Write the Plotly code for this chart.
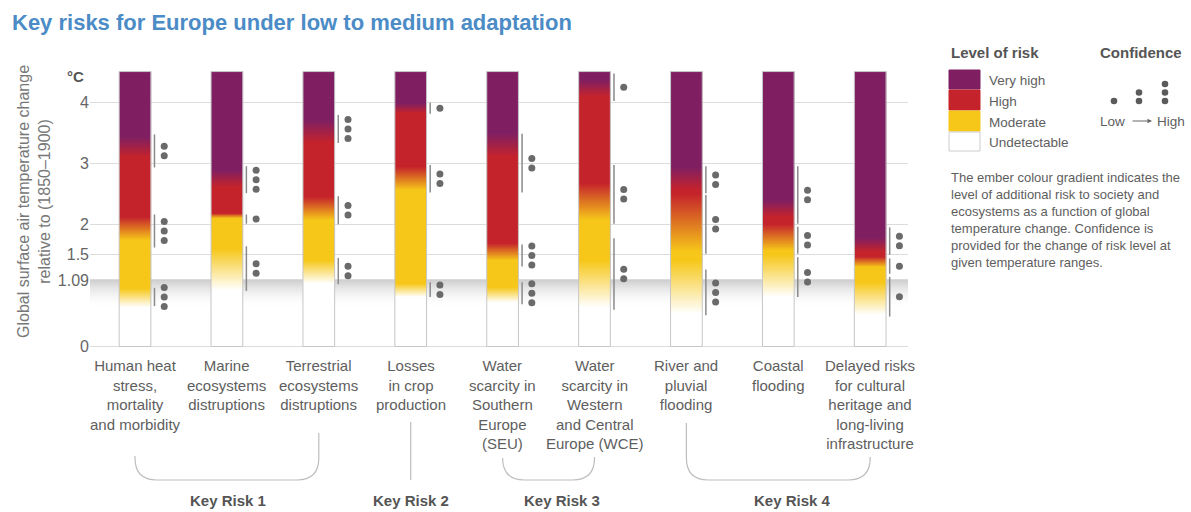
import numpy as np
import plotly.graph_objects as go

# ---------------------------------------------------------------- data
RISKS = [
    "Human heat<br>stress,<br>mortality<br>and morbidity",
    "Marine<br>ecosystems<br>distruptions",
    "Terrestrial<br>ecosystems<br>distruptions",
    "Losses<br>in crop<br>production",
    "Water<br>scarcity in<br>Southern<br>Europe<br>(SEU)",
    "Water<br>scarcity in<br>Western<br>and Central<br>Europe (WCE)",
    "River and<br>pluvial<br>flooding",
    "Coastal<br>flooding",
    "Delayed risks<br>for cultural<br>heritage and<br>long-living<br>infrastructure",
]

# temperature ranges (°C) over which the risk level changes
UNDET_TO_MOD = [(0.64, 0.95), (0.92, 1.60), (1.03, 1.41), (0.81, 1.03), (0.72, 0.97),
                (0.64, 1.41), (0.54, 1.41), (0.81, 1.50), (0.52, 1.05)]
MOD_TO_HIGH = [(1.74, 2.12), (2.10, 2.18), (2.07, 2.45), (2.56, 2.94), (1.41, 1.69),
               (2.07, 2.67), (1.55, 2.50), (1.57, 2.00), (1.30, 1.47)]
HIGH_TO_VHIGH = [(3.10, 3.43), (2.61, 2.89), (3.33, 3.70), (3.82, 3.98), (3.10, 3.49),
                 (4.09, 4.36), (2.56, 2.94), (2.12, 2.39), (1.55, 1.78)]

# confidence assessments: (from °C, to °C, number of dots)
CONFIDENCE = [
    [(2.93, 3.47, 2), (1.62, 2.16, 3), (0.66, 0.96, 3)],
    [(2.51, 2.95, 3), (2.01, 2.16, 1), (0.91, 1.64, 2)],
    [(3.33, 3.79, 3), (2.00, 2.46, 2), (1.02, 1.45, 2)],
    [(3.81, 3.99, 1), (2.52, 2.97, 2), (0.81, 1.05, 2)],
    [(2.52, 3.48, 2), (1.31, 1.67, 3), (0.69, 1.05, 3)],
    [(4.02, 4.47, 1), (2.01, 2.97, 2), (0.60, 1.77, 2)],
    [(2.51, 2.95, 2), (1.52, 2.48, 2), (0.51, 1.26, 3)],
    [(2.01, 2.95, 2), (1.52, 1.96, 2), (0.81, 1.46, 2)],
    [(1.50, 1.95, 2), (1.19, 1.44, 1), (0.49, 1.14, 1)],
]

KEY_RISKS = ["Key Risk 1", "Key Risk 2", "Key Risk 3", "Key Risk 4"]
KEY_RISK_GROUPS = [(0, 2), (3, 3), (4, 5), (6, 8)]

Y_TICKS = [0, 1.09, 1.5, 2, 3, 4]
OBSERVED_WARMING = 1.09
TOP_TEMP = 4.5

LEVELS = ["Very high", "High", "Moderate", "Undetectable"]
CONF_LEVELS = [1, 2, 3]

# ---------------------------------------------------------------- style / geometry
W, H = 1191, 512
ML, MR = 90, 283
PLOT_W = W - ML - MR
X_ORIGIN_PX, X_UNIT_PX = 135.0, 91.9
Y_ORIGIN_PX, Y_UNIT_PX = 346.5, 61.1

FONT = "Liberation Sans, Arial, Helvetica, sans-serif"
TXT = "#5e5e5e"
HEAD = "#555555"
PURPLE, RED, YELLOW = "#7F1F62", "#C5232B", "#F6C719"
BAR_W = 0.345
CONF_LINE_DX = 0.212
CONF_DOT_DX = 0.318
DOT_STEP = 9.5 / Y_UNIT_PX


def px2x(px):
    return (px - X_ORIGIN_PX) / X_UNIT_PX


def py2y(py):
    return (Y_ORIGIN_PX - py) / Y_UNIT_PX


def px2paper(px):
    return (px - ML) / PLOT_W


def py2paper(py):
    return 1 - py / H


x_range = [px2x(ML), px2x(W - MR)]
y_range = [py2y(H), py2y(0)]

fig = go.Figure()

# observed-warming band fading below 1.09 °C
band_edges = np.arange(0.60, OBSERVED_WARMING + 1e-9, 0.005)
band_mid = (band_edges[:-1] + band_edges[1:]) / 2
band_z = np.clip((band_mid - 0.62) / (OBSERVED_WARMING - 0.62), 0, 1)[:, None]
fig.add_trace(go.Heatmap(
    x=x_range, y=band_edges, z=band_z, zmin=0, zmax=1,
    colorscale=[[0, "rgba(255,255,255,0)"], [1, "#cdcdcd"]],
    showscale=False, hoverinfo="skip"))

# ember bars
edges = np.arange(0, TOP_TEMP + 1e-9, 0.005)
mids = (edges[:-1] + edges[1:]) / 2
ember_scale = [[0, "#ffffff"], [1 / 3, YELLOW], [2 / 3, RED], [1, PURPLE]]
for i in range(len(RISKS)):
    level = np.zeros_like(mids)
    for a, b in (UNDET_TO_MOD[i], MOD_TO_HIGH[i], HIGH_TO_VHIGH[i]):
        level += np.clip((mids - a) / (b - a), 0, 1)
    fig.add_trace(go.Heatmap(
        x=[i - BAR_W / 2, i + BAR_W / 2], y=edges, z=level[:, None],
        zmin=0, zmax=3, colorscale=ember_scale,
        showscale=False, hoverinfo="skip"))
    fig.add_trace(go.Scatter(
        x=[i - BAR_W / 2, i + BAR_W / 2, i + BAR_W / 2, i - BAR_W / 2, i - BAR_W / 2],
        y=[0, 0, TOP_TEMP, TOP_TEMP, 0], mode="lines",
        line=dict(color="#c6c6c6", width=1), hoverinfo="skip", showlegend=False))

# confidence ranges and dots
lx, ly, dx, dy = [], [], [], []
for i, ranges in enumerate(CONFIDENCE):
    for lo, hi, n in ranges:
        lx += [i + CONF_LINE_DX, i + CONF_LINE_DX, None]
        ly += [lo, hi, None]
        mid = (lo + hi) / 2
        for k in range(n):
            dx.append(i + CONF_DOT_DX)
            dy.append(mid + (k - (n - 1) / 2) * DOT_STEP)
fig.add_trace(go.Scatter(x=lx, y=ly, mode="lines", line=dict(color="#8a8a8a", width=1.5),
                         hoverinfo="skip", showlegend=False))
fig.add_trace(go.Scatter(x=dx, y=dy, mode="markers", marker=dict(color="#6a6a6a", size=7),
                         hoverinfo="skip", showlegend=False))

annotations = []

# category labels
for i, lab in enumerate(RISKS):
    annotations.append(dict(x=i, y=py2y(355), xref="x", yref="y", text=lab, showarrow=False,
                            xanchor="center", yanchor="top", align="center",
                            font=dict(size=15, color=TXT)))

# key-risk brackets
shapes = []
bracket_tops = [(456, 433), (422, 422), (458, 457), (423, 457)]
yb = py2y(480)
rx, ry = 22 / X_UNIT_PX, 22 / Y_UNIT_PX
for (i0, i1), (t0, t1) in zip(KEY_RISK_GROUPS, bracket_tops):
    if i0 == i1:
        path = f"M {i0},{py2y(t0)} L {i0},{yb}"
    else:
        path = (f"M {i0},{py2y(t0)} L {i0},{yb + ry} Q {i0},{yb} {i0 + rx},{yb} "
                f"L {i1 - rx},{yb} Q {i1},{yb} {i1},{yb + ry} L {i1},{py2y(t1)}")
    shapes.append(dict(type="path", path=path, xref="x", yref="y",
                       line=dict(color="#bdbdbd", width=1.2)))

KEY_RISK_X = [1.01, 3.0, 4.65, 7.15]
for name, kx in zip(KEY_RISKS, KEY_RISK_X):
    annotations.append(dict(x=kx, y=py2y(500), xref="x", yref="y", text=f"<b>{name}</b>",
                            showarrow=False, xanchor="center", yanchor="middle",
                            font=dict(size=15, color=HEAD)))

# title, unit and axis title
annotations.append(dict(x=px2paper(10), y=py2paper(22), xref="paper", yref="paper",
                        text="<b>Key risks for Europe under low to medium adaptation</b>",
                        showarrow=False, xanchor="left", yanchor="middle",
                        font=dict(size=22, color="#4B8BC6")))
annotations.append(dict(x=px2paper(75), y=py2paper(76), xref="paper", yref="paper",
                        text="<b>°C</b>", showarrow=False, xanchor="center", yanchor="middle",
                        font=dict(size=15, color=HEAD)))
annotations.append(dict(x=px2paper(34), y=py2paper(202), xref="paper", yref="paper",
                        text="Global surface air temperature change<br>relative to (1850–1900)",
                        textangle=-90, showarrow=False, xanchor="center", yanchor="middle",
                        align="center", font=dict(size=16, color="#777777")))

# legend: level of risk
annotations.append(dict(x=px2paper(949), y=py2paper(52), xref="paper", yref="paper",
                        text="<b>Level of risk</b>", showarrow=False, xanchor="left",
                        yanchor="middle", font=dict(size=15, color=HEAD)))
swatch_colors = [PURPLE, RED, YELLOW, "#ffffff"]
swatch_rows = [(70, 89), (90, 110), (111, 131), (132, 151)]
for lvl, col, (t, b) in zip(LEVELS, swatch_colors, swatch_rows):
    shapes.append(dict(type="rect", xref="paper", yref="paper",
                       x0=px2paper(949), x1=px2paper(980), y0=py2paper(b), y1=py2paper(t),
                       fillcolor=col,
                       line=dict(color="#cccccc" if col == "#ffffff" else col, width=1)))
    annotations.append(dict(x=px2paper(987), y=py2paper((t + b) / 2 + 1), xref="paper",
                            yref="paper", text=lvl, showarrow=False, xanchor="left",
                            yanchor="middle", font=dict(size=13.5, color=TXT)))

# legend: confidence
annotations.append(dict(x=px2paper(1141), y=py2paper(52), xref="paper", yref="paper",
                        text="<b>Confidence</b>", showarrow=False, xanchor="center",
                        yanchor="middle", font=dict(size=15, color=HEAD)))
DOT_R = 3.3
for n, cx in zip(CONF_LEVELS, [1114, 1139, 1165]):
    for k in range(n):
        cy = 101 - k * 8.5
        shapes.append(dict(type="circle", xref="paper", yref="paper",
                           x0=px2paper(cx - DOT_R), x1=px2paper(cx + DOT_R),
                           y0=py2paper(cy + DOT_R), y1=py2paper(cy - DOT_R),
                           fillcolor="#5a5a5a", line=dict(width=0)))
annotations.append(dict(x=px2paper(1127), y=py2paper(121), xref="paper", yref="paper",
                        text="Low", showarrow=False, xanchor="right", yanchor="middle",
                        font=dict(size=13.5, color=TXT)))
annotations.append(dict(x=px2paper(1155), y=py2paper(121), xref="paper", yref="paper",
                        text="High", showarrow=False, xanchor="left", yanchor="middle",
                        font=dict(size=13.5, color=TXT)))
annotations.append(dict(x=px2paper(1152), y=py2paper(121), xref="paper", yref="paper",
                        ax=-21, ay=0, text="", showarrow=True, arrowhead=2, arrowsize=0.9,
                        arrowwidth=1, arrowcolor="#666666"))

annotations.append(dict(
    x=px2paper(949), y=py2paper(168), xref="paper", yref="paper",
    text=("The ember colour gradient indicates the<br>level of additional risk to society and<br>"
          "ecosystems as a function of global<br>temperature change. Confidence is<br>"
          "provided for the change of risk level at<br>given temperature ranges."),
    showarrow=False, xanchor="left", yanchor="top", align="left",
    font=dict(size=13, color=TXT)))

fig.update_layout(
    width=W, height=H,
    margin=dict(l=ML, r=MR, t=0, b=0, pad=0),
    paper_bgcolor="white", plot_bgcolor="white",
    font=dict(family=FONT, color=TXT),
    showlegend=False,
    xaxis=dict(range=x_range, visible=False, showgrid=False, zeroline=False),
    yaxis=dict(range=y_range, tickvals=Y_TICKS, ticktext=[str(v) for v in Y_TICKS],
               showgrid=True, gridcolor="#dcdcdc", gridwidth=1, zeroline=False,
               showline=False, ticks="", tickfont=dict(size=16, color="#666666")),
    shapes=shapes,
    annotations=annotations,
)

fig.write_html("out.html")
